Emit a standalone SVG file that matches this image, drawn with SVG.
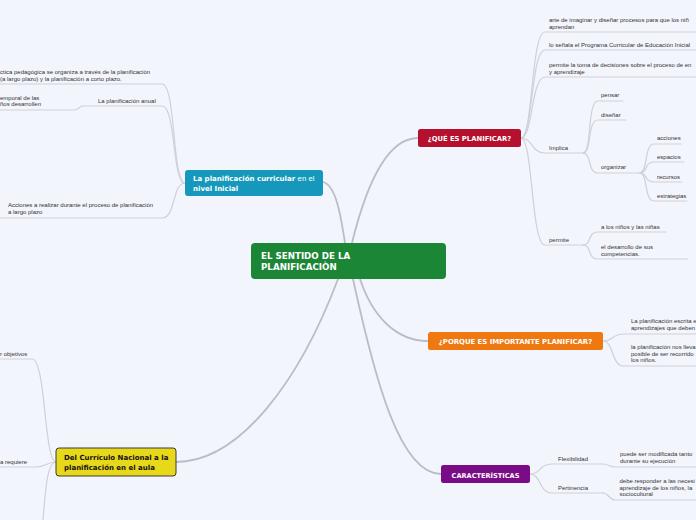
<svg xmlns="http://www.w3.org/2000/svg" width="696" height="520" viewBox="0 0 696 520">
<style>
.bg{fill:#f3f5fd}
.main{fill:none;stroke:#bcbcc6;stroke-width:1.8;stroke-linecap:round}
.sub{fill:none;stroke:#cfd0d8;stroke-width:1.2;stroke-linecap:round}
.leaf{font-family:"Liberation Sans",Arial,sans-serif;font-size:6px;fill:#333}
.nt{font-family:"DejaVu Sans",Verdana,sans-serif;font-weight:bold;fill:#fff}
</style>
<rect class="bg" x="0" y="0" width="696" height="520"/>
<g id="connectors">
<path class="main" d="M352 243 C365 190 385 138 418 138"/>
<path class="main" d="M345 243 C340 210 335 185 323 182"/>
<path class="main" d="M360 279 C372 315 395 341 428 341"/>
<path class="main" d="M353 279 C375 380 400 474 441 474"/>
<path class="main" d="M338 279 C300 380 240 462 176 462"/>
<path class="sub" d="M521 138 C533 138 531 32 545 32 H696"/>
<path class="sub" d="M521 138 C533 138 531 50 545 50 H696"/>
<path class="sub" d="M521 138 C533 138 531 77 545 77 H696"/>
<path class="sub" d="M521 138 C533 138 531 153 545 153 H583"/>
<path class="sub" d="M521 138 C533 138 531 245 545 245 H583"/>
<path class="sub" d="M583 153 C592 153 587 101 598 101 H623"/>
<path class="sub" d="M583 153 C592 153 587 120 598 120 H626"/>
<path class="sub" d="M583 153 C592 153 587 173 598 173 H640"/>
<path class="sub" d="M640 173 C648 173 644 144 654 144 H681"/>
<path class="sub" d="M640 173 C648 173 644 162 654 162 H684"/>
<path class="sub" d="M640 173 C648 173 644 182 654 182 H682"/>
<path class="sub" d="M640 173 C648 173 644 201 654 201 H687"/>
<path class="sub" d="M583 245 C592 245 587 232 598 232 H666"/>
<path class="sub" d="M583 245 C592 245 587 259 598 259 H688"/>
<path class="sub" d="M603 341 C614 341 611 334 624 334 H696"/>
<path class="sub" d="M603 341 C614 341 611 366 624 366 H696"/>
<path class="sub" d="M530 474 C541 474 539 464 552 464 H603"/>
<path class="sub" d="M530 474 C541 474 539 493 552 493 H603"/>
<path class="sub" d="M603 464 C609 464 609 467 615 467 H696"/>
<path class="sub" d="M603 493 C609 493 609 500 615 500 H696"/>
<path class="sub" d="M185 183 C172 183 176 84 162 84 H0"/>
<path class="sub" d="M185 183 C172 183 176 106 162 106 H83"/>
<path class="sub" d="M83 106 C78 106 80 110 74 110 H0"/>
<path class="sub" d="M185 183 C172 183 176 218 162 218 H0"/>
<path class="sub" d="M56 462 C44 462 46 359 32 359 H0"/>
<path class="sub" d="M56 462 C46 462 46 467 36 467 H0"/>
<path class="sub" d="M56 462 C46 462 45 500 43 520"/>
</g>
<g id="center">
<rect x="251" y="243" width="195" height="36" rx="4" fill="#1a8636"/>
<text class="nt" x="261" y="259" font-size="8.7">EL SENTIDO DE LA</text>
<text class="nt" x="261" y="270" font-size="8.7">PLANIFICACIÒN</text>
</g>
<g id="que-es">
<rect x="418" y="129" width="103" height="18" rx="2.5" fill="#b5102e"/>
<text class="nt" x="469.5" y="141" font-size="6.8" text-anchor="middle">¿QUÉ ES PLANIFICAR?</text>
</g>
<g id="curricular">
<rect x="185" y="170" width="138" height="26" rx="3" fill="#1698bc"/>
<text class="nt" x="193" y="181" font-size="7">La planificación curricular <tspan font-weight="normal" font-family="Liberation Sans, Arial, sans-serif" font-size="7.8">en el</tspan></text>
<text class="nt" x="193" y="191" font-size="7">nivel Inicial</text>
</g>
<g id="porque">
<rect x="428" y="332" width="175" height="18" rx="2.5" fill="#ef7810"/>
<text class="nt" x="515.5" y="344" font-size="6.9" text-anchor="middle">¿PORQUE ES IMPORTANTE PLANIFICAR?</text>
</g>
<g id="caracteristicas">
<rect x="441" y="465" width="89" height="18" rx="2.5" fill="#7b0c87"/>
<text class="nt" x="485.5" y="477.5" font-size="6.6" text-anchor="middle">CARACTERÍSTICAS</text>
</g>
<g id="del-curriculo">
<rect x="56" y="448" width="120" height="28" rx="3" fill="#e8d81a" stroke="#3a3a3a" stroke-width="1"/>
<text class="nt" x="64" y="460" font-size="7" style="fill:#111">Del Currículo Nacional a la</text>
<text class="nt" x="64" y="470" font-size="7" style="fill:#111">planificación en el aula</text>
</g>
<g id="arte"><text class="leaf" x="549" y="22">arte de imaginar y diseñar procesos para que los niñ</text><text class="leaf" x="549" y="28.5">aprendan</text></g>
<g id="lo-senala"><text class="leaf" x="549" y="47">lo señala el Programa Curricular de Educación Inicial</text></g>
<g id="permite-toma"><text class="leaf" x="549" y="67">permite la toma de decisiones sobre el proceso de en</text><text class="leaf" x="549" y="73.5">y aprendizaje</text></g>
<g id="implica"><text class="leaf" x="549" y="150">Implica</text></g>
<g id="pensar"><text class="leaf" x="601" y="97">pensar</text></g>
<g id="disenar"><text class="leaf" x="601" y="117">diseñar</text></g>
<g id="organizar"><text class="leaf" x="601" y="169">organizar</text></g>
<g id="acciones"><text class="leaf" x="657" y="140">acciones</text></g>
<g id="espacios"><text class="leaf" x="657" y="159">espacios</text></g>
<g id="recursos"><text class="leaf" x="657" y="179">recursos</text></g>
<g id="estrategias"><text class="leaf" x="657" y="198">estrategias</text></g>
<g id="permite"><text class="leaf" x="549" y="242">permite</text></g>
<g id="ninos"><text class="leaf" x="601" y="229">a los niños y las niñas</text></g>
<g id="desarrollo"><text class="leaf" x="601" y="249">el desarrollo de sus</text><text class="leaf" x="601" y="255.5">competencias.</text></g>
<g id="escrita"><text class="leaf" x="631" y="323">La planificación escrita e</text><text class="leaf" x="631" y="329.5">aprendizajes que deben</text></g>
<g id="lleva"><text class="leaf" x="631" y="349">la planificación nos lleva</text><text class="leaf" x="631" y="355.5">posible de ser recorrido</text><text class="leaf" x="631" y="362">los niños.</text></g>
<g id="flexibilidad"><text class="leaf" x="558" y="461">Flexibilidad</text></g>
<g id="modificada"><text class="leaf" x="620" y="456">puede ser modificada tanto</text><text class="leaf" x="620" y="462.5"> durante su ejecución</text></g>
<g id="pertinencia"><text class="leaf" x="558" y="490">Pertinencia</text></g>
<g id="responder"><text class="leaf" x="619.5" y="483">debe responder a las necesi</text><text class="leaf" x="619.5" y="489.5"> aprendizaje de los niños, la</text><text class="leaf" x="619.5" y="496">sociocultural</text></g>
<g id="practica"><text class="leaf" x="0" y="74">ctica pedagógica se organiza a través de la planificación</text><text class="leaf" x="0" y="80.5">(a largo plazo) y la planificación a corto plazo.</text></g>
<g id="anual"><text class="leaf" x="98" y="103">La planificación anual</text></g>
<g id="temporal"><text class="leaf" x="0" y="99.5">emporal de las</text><text class="leaf" x="0" y="106">ños desarrollen</text></g>
<g id="acciones-realizar"><text class="leaf" x="8" y="207">Acciones a realizar durante el proceso de planificación</text><text class="leaf" x="8" y="213.5">a largo plazo</text></g>
<g id="objetivos"><text class="leaf" x="0" y="356">r objetivos</text></g>
<g id="requiere"><text class="leaf" x="0" y="464">a requiere</text></g>
</svg>
